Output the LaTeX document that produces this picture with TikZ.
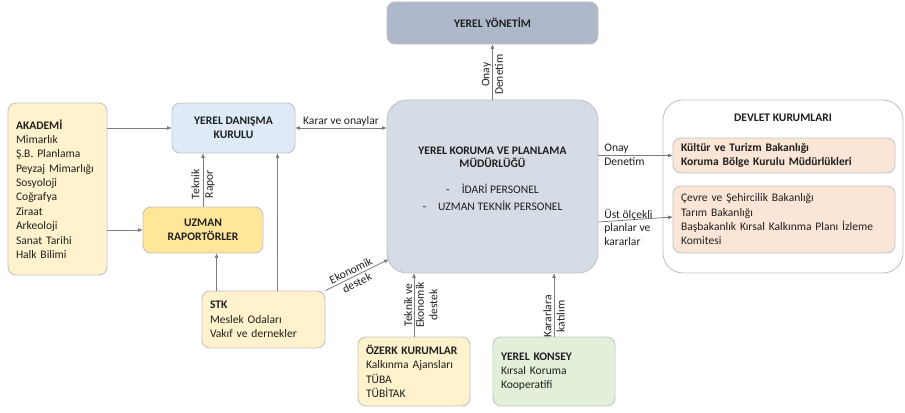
\documentclass[tikz,border=0pt]{standalone}
\usepackage{fontspec}
\setmainfont{Carlito}
\usetikzlibrary{positioning, calc, arrows.meta}
\definecolor{lineGray}{RGB}{125, 125, 125}
\definecolor{edgeGray}{RGB}{195, 195, 195}
\definecolor{akaYellow}{RGB}{255, 242, 204}
\definecolor{uzmYellow}{RGB}{255, 230, 153}
\definecolor{danBlue}{RGB}{222, 235, 247}
\definecolor{yonGray}{RGB}{173, 185, 202}
\definecolor{mudGray}{RGB}{214, 220, 229}
\definecolor{bakOrange}{RGB}{251, 229, 214}
\definecolor{konGreen}{RGB}{226, 240, 217}

\begin{document}
\begin{tikzpicture}[x=1bp, y=1bp,
          box/.style={draw=edgeGray, line width=0.9bp, rounded corners=8bp,
                      inner sep=0pt, align=center, text=black!88,
                      font=\fontsize{11.6}{14.4}\selectfont},
          lbox/.style={box, align=left, text width=#1, inner xsep=8bp},
          head/.style={font=\fontsize{11.6}{14}\selectfont\bfseries, text=black!88, align=center},
          arr/.style={-{Triangle[length=4.5bp, width=3.5bp]}, draw=lineGray, line width=0.8bp},
          arrb/.style={{Triangle[length=4.5bp, width=3.5bp]}-{Triangle[length=4.5bp, width=3.5bp]},
                       draw=lineGray, line width=0.8bp},
          lbl/.style={font=\fontsize{11.6}{13.5}\selectfont, text=black!88, align=left, inner sep=1.5bp},
          rot/.style={lbl, rotate=90, align=center}
        ]
        \useasboundingbox (0,0) rectangle (905,412);

        % left column
        \node[lbox=83bp, fill=akaYellow, minimum height=172bp] (akademi) at (57.5,223)
              {\textbf{AKADEMİ}\\Mimarlık\\Ş.B. Planlama\\Peyzaj Mimarlığı\\Sosyoloji\\
               Coğrafya\\Ziraat\\Arkeoloji\\Sanat Tarihi\\Halk Bilimi};
        \node[box, head, fill=danBlue, minimum width=123bp, minimum height=50bp]
                   (danisma) at (233.5,284) {YEREL DANIŞMA\\KURULU};
        \node[box, head, fill=uzmYellow, minimum width=120bp, minimum height=46bp]
                   (uzman) at (203,182) {UZMAN\\RAPORTÖRLER};
        \node[lbox=107bp, fill=akaYellow, minimum height=57bp] (stk) at (263.5,92.5)
              {\textbf{STK}\\Meslek Odaları\\Vakıf ve dernekler};

        % centre
        \node[box, fill=yonGray, minimum width=211bp, minimum height=42bp]
                   (yonetim) at (492.5,389) {};
        \node[head] (yonetimText) at (yonetim.center) {YEREL YÖNETİM};
        \node[box, fill=mudGray, rounded corners=20bp, minimum width=211bp, minimum height=173bp]
                   (mudurluk) at (492.5,225.5) {};
        \node[box, draw=none, align=center] (mudurlukText) at (492.5,233)
              {\textbf{YEREL KORUMA VE PLANLAMA}\\[-1.5bp]\textbf{MÜDÜRLÜĞÜ}\\[12bp]
               -\hspace{12bp}İDARİ PERSONEL\\[2.5bp]-\hspace{12bp}UZMAN TEKNİK PERSONEL};
        \node[lbox=96bp, fill=akaYellow, minimum height=69bp] (ozerk) at (414,40.5)
              {\textbf{ÖZERK KURUMLAR}\\Kalkınma Ajansları\\TÜBA\\TÜBİTAK};
        \node[lbox=106bp, fill=konGreen, minimum height=69bp] (konsey) at (554,40.5)
              {\textbf{YEREL KONSEY}\\Kırsal Koruma\\Kooperatifi};

        % right column
        \node[box, fill=white, rounded corners=20bp, minimum width=240bp, minimum height=173bp]
                   (devlet) at (783,225.5) {};
        \node[head] (devletTitle) at ([yshift=-18bp]devlet.north) {DEVLET KURUMLARI};
        \node[lbox=206bp, fill=bakOrange, minimum height=35bp] (kultur) at (784,256.5)
              {\textbf{Kültür ve Turizm Bakanlığı}\\\textbf{Koruma Bölge Kurulu Müdürlükleri}};
        \node[lbox=206bp, fill=bakOrange, minimum height=67bp] (cevre) at (784,192.5)
              {Çevre ve Şehircilik Bakanlığı\\Tarım Bakanlığı\\
               Başbakanlık Kırsal Kalkınma Planı İzleme\\Komitesi};

        \coordinate (stkL) at ([xshift=15bp]stk.north west);
        \coordinate (stkR) at ([xshift=76bp]stk.north west);

        \draw[arr] (akademi.east |- danisma.west) -- (danisma.west);
        \draw[arr] (akademi.east |- uzman.west) -- (uzman.west);
        \draw[arr] (uzman.north) -- node[rot, pos=.42]{Teknik\\Rapor} (uzman.north |- danisma.south);
        \draw[arrb] (danisma.east) -- node[lbl, above]{Karar ve onaylar} (danisma.east -| mudurluk.west);
        \draw[arr] (stkL) -- (stkL |- uzman.south);
        \draw[arr] (stkR) -- (stkR |- danisma.south);
        \draw[arr] (stk.north east) -- node[lbl, sloped, above, pos=.45, inner sep=2.5bp]{Ekonomik}
              node[lbl, sloped, below, pos=.45, inner sep=2.5bp]{destek} ([shift={(2bp,14bp)}]mudurluk.south west);
        \draw[arr] (mudurluk.north) -- node[rot, pos=.45]{Onay\\Denetim} (yonetim.south);
        \draw[arr] (ozerk.north) -- node[rot, above, pos=.5]{Teknik ve}
              node[rot, below, pos=.5]{Ekonomik\\destek} (ozerk.north |- mudurluk.south);
        \draw[arr] (konsey.north) -- node[rot, pos=.32]{Kararlara\\katılım} (konsey.north |- mudurluk.south);
        \draw[arr] (mudurluk.east |- kultur.west) -- node[lbl, anchor=south west, pos=0, xshift=4bp]{Onay}
              node[lbl, anchor=north west, pos=0, xshift=4bp]{Denetim} (kultur.west);
        \draw[arr] ([yshift=-2.5bp]mudurluk.east |- cevre.west) --
              node[lbl, anchor=south west, pos=0, xshift=4bp]{Üst ölçekli}
              node[lbl, anchor=north west, pos=0, xshift=4bp]{planlar ve\\kararlar} ([yshift=2.5bp]cevre.west);
      \end{tikzpicture}
\end{document}
